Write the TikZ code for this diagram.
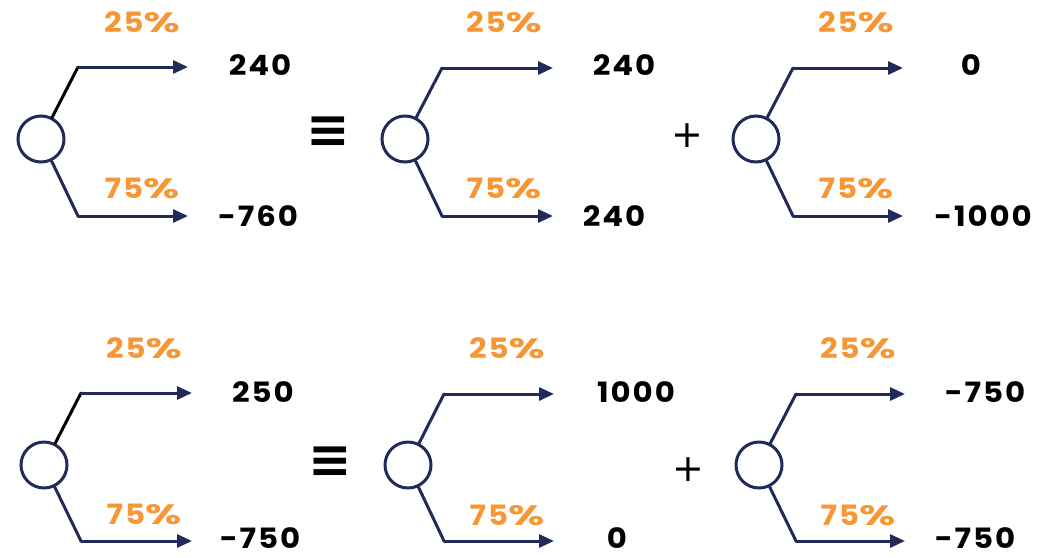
\documentclass[tikz,border=0pt]{standalone}
\usepackage{fontspec}
\setmainfont{Poppins}[FakeStretch=1.1,LetterSpace=7]
\newfontfamily\symfont{DejaVu Sans}
\usetikzlibrary{arrows.meta}
\definecolor{navy}{RGB}{34,42,90}
\definecolor{prob}{RGB}{247,150,52}
\newcommand\pcent{\scalebox{1.35}[1]{\%}}
\tikzset{
  chance/.style={circle,draw=navy,line width=3pt,minimum size=46pt,inner sep=0pt},
  branch/.style={draw=navy,line width=3pt,line cap=round},
  darm/.style={branch,-{Triangle[length=15pt,width=13pt]}},
  blackdiag/.style={draw=black},
  pct/.style={text=prob,font=\fontsize{28}{30}\selectfont\bfseries,inner sep=0pt},
  val/.style={text=black,font=\fontsize{28}{30}\selectfont\bfseries,inner sep=0pt},
  eqv/.style={font=\symfont\bfseries\fontsize{52}{54}\selectfont,inner sep=0pt},
  plus/.style={font=\symfont\fontsize{38}{40}\selectfont,inner sep=0pt},
}
\newcommand\dtree[8]{%
  \node[chance] (#1) at (#2,#3) {};
  \coordinate (#1u) at (#4,#5);
  \coordinate (#1d) at (#4,#6);
  \coordinate (#1ue) at (#7,#5);
  \coordinate (#1de) at (#7,#6);
  \draw[branch,#8] (#1) -- (#1u);
  \draw[branch] (#1) -- (#1d);
  \draw[darm] (#1u) -- (#1ue);
  \draw[darm] (#1d) -- (#1de);
}
\begin{document}
\begin{tikzpicture}[x=1pt,y=-1pt]
\useasboundingbox (0,0) rectangle (1048,557);
% row 1
\dtree{a}{41}{139}{78}{67}{216}{188}{blackdiag}
\dtree{b}{405}{139}{442}{68}{216}{553}{}
\dtree{c}{756}{139}{793}{68}{216}{903}{}
% row 2
\dtree{d}{44}{465}{81}{393}{541}{192}{blackdiag}
\dtree{e}{408}{465}{444}{394}{541}{554}{}
\dtree{f}{759}{465}{796}{394}{541}{905}{}
% labels row 1
\node[pct] (ap1) at (142,22) {25\pcent};
\node[pct] (ap2) at (142,188) {75\pcent};
\node[val] (av1) at (260,65) {240};
\node[val] (av2) at (258,216) {-760};
\node[pct] (bp1) at (504,22) {25\pcent};
\node[pct] (bp2) at (504,188) {75\pcent};
\node[val] (bv1) at (624,65) {240};
\node[val] (bv2) at (614,216) {240};
\node[pct] (cp1) at (856,22) {25\pcent};
\node[pct] (cp2) at (856,188) {75\pcent};
\node[val] (cv1) at (971,65) {0};
\node[val] (cv2) at (983,216) {-1000};
% labels row 2
\node[pct] (dp1) at (144,348) {25\pcent};
\node[pct] (dp2) at (144,514) {75\pcent};
\node[val] (dv1) at (263,392) {250};
\node[val] (dv2) at (260,538) {-750};
\node[pct] (ep1) at (507,348) {25\pcent};
\node[pct] (ep2) at (507,515) {75\pcent};
\node[val] (ev1) at (636,392) {1000};
\node[val] (ev2) at (617,538) {0};
\node[pct] (fp1) at (858,348) {25\pcent};
\node[pct] (fp2) at (858,515) {75\pcent};
\node[val] (fv1) at (985,392) {-750};
\node[val] (fv2) at (975,538) {-750};
% operators
\node[eqv] (eq1) at (328,132) {≡};
\node[eqv] (eq2) at (330,462) {≡};
\node[plus] (pl1) at (687,136) {+};
\node[plus] (pl2) at (688,470) {+};
\end{tikzpicture}
\end{document}
